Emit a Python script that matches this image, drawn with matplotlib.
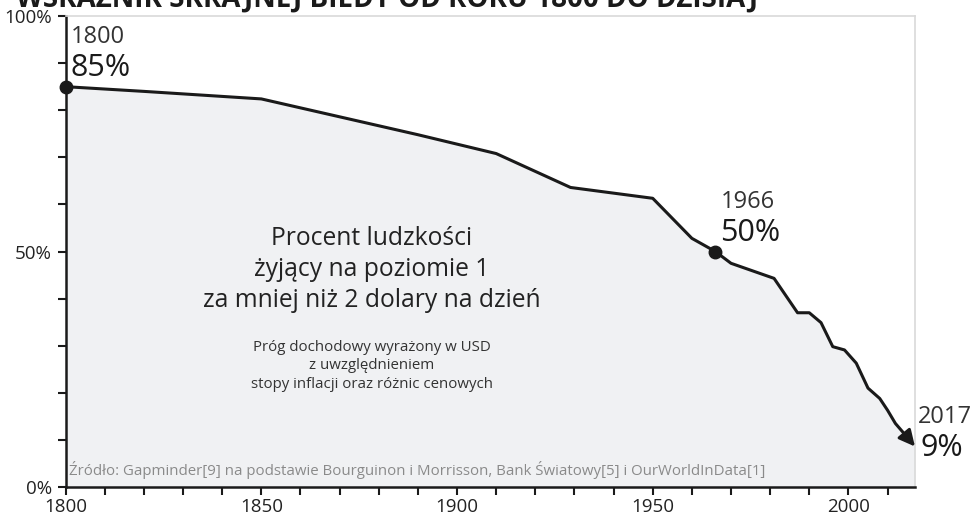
import numpy as np
import matplotlib
matplotlib.use("Agg")
import matplotlib.pyplot as plt
from matplotlib.ticker import MultipleLocator, FuncFormatter

plt.rcParams['font.family'] = ['Open Sans', 'DejaVu Sans']

# extreme poverty share of humanity (%)
years = [1800, 1820, 1850, 1870, 1890, 1910, 1929, 1950, 1960, 1966, 1970, 1981,
         1987, 1990, 1993, 1996, 1999, 2002, 2005, 2008, 2010, 2012, 2015, 2017]
poverty = [85.0, 84.0, 82.4, 78.6, 74.8, 70.8, 63.6, 61.3, 52.8, 50.0, 47.5, 44.3,
           37.0, 37.0, 34.9, 29.8, 29.1, 26.3, 21.0, 18.8, 16.3, 13.5, 10.6, 8.6]

highlight_years = [1800, 1966, 2017]
highlight_labels = ["85%", "50%", "9%"]

title = "WSKAŹNIK SKRAJNEJ BIEDY OD ROKU 1800 DO DZISIAJ"
main_text = "Procent ludzkości\nżyjący na poziomie 1\nza mniej niż 2 dolary na dzień"
sub_text = "Próg dochodowy wyrażony w USD\nz uwzględnieniem\nstopy inflacji oraz różnic cenowych"
source = ("Źródło: Gapminder[9] na podstawie Bourguinon i Morrisson, "
          "Bank Światowy[5] i OurWorldInData[1]")

ink = "#1a1a1a"
fill_col = "#f0f1f3"
border = "#d9d9d9"

fig = plt.figure(figsize=(9.77, 5.17), dpi=100)
ax = fig.add_axes([0.0672, 0.058, 0.8693, 0.911])

ax.fill_between(years, poverty, 0, color=fill_col, lw=0, zorder=1)
ax.plot(years[:-1], poverty[:-1], color=ink, lw=2.2, zorder=3, solid_joinstyle='round')
ax.annotate("", xy=(years[-1], poverty[-1]), xytext=(years[-2], poverty[-2]),
            arrowprops=dict(arrowstyle='-|>', color=ink, lw=2.2, mutation_scale=24,
                            shrinkA=0, shrinkB=0), zorder=4, annotation_clip=False)

for yr, lab in zip(highlight_years, highlight_labels):
    val = poverty[years.index(yr)]
    if yr != years[-1]:
        ax.plot(yr, val, 'o', color=ink, ms=9, zorder=5, clip_on=False)
        ax.annotate(str(yr), (yr, val), xytext=(5, 44), textcoords='offset pixels',
                    fontsize=17, color="#333333", va='baseline', ha='left')
        ax.annotate(lab, (yr, val), xytext=(5, 11), textcoords='offset pixels',
                    fontsize=22, color=ink, va='baseline', ha='left')
    else:
        ax.annotate(str(yr), (yr, val), xytext=(3, 24), textcoords='offset pixels',
                    fontsize=17, color="#333333", va='baseline', ha='left',
                    annotation_clip=False)
        ax.annotate(lab, (yr, val), xytext=(6, -9), textcoords='offset pixels',
                    fontsize=22, color=ink, va='baseline', ha='left',
                    annotation_clip=False)

ax.text(0.3607, 0.462, main_text, transform=ax.transAxes, ha='center', va='center',
        fontsize=17.7, color="#222222", linespacing=1.3)
ax.text(0.3607, 0.257, sub_text, transform=ax.transAxes, ha='center', va='center',
        fontsize=10.8, color="#333333", linespacing=1.32)
ax.text(0.004, 0.036, source, transform=ax.transAxes, ha='left', va='center',
        fontsize=10.85, color="#8a8a8a")

fig.text(0.016, 1 - 7 / 517, title, fontsize=20, fontweight='bold', color=ink,
         va='baseline', ha='left')

ax.set_xlim(1800, 2017)
ax.set_ylim(0, 100)
ax.xaxis.set_major_locator(MultipleLocator(50))
ax.xaxis.set_minor_locator(MultipleLocator(10))
ax.yaxis.set_major_locator(MultipleLocator(50))
ax.yaxis.set_minor_locator(MultipleLocator(10))
ax.yaxis.set_major_formatter(FuncFormatter(lambda v, p: f"{v:.0f}%"))

ax.tick_params(which='both', direction='out', length=6, width=1.5, color=ink)
ax.tick_params(axis='x', labelsize=13.5, pad=2, labelcolor="#222222")
ax.tick_params(axis='y', labelsize=13.5, pad=4, labelcolor="#222222")

for s in ['left', 'bottom']:
    ax.spines[s].set_color(ink)
    ax.spines[s].set_linewidth(1.8)
for s in ['top', 'right']:
    ax.spines[s].set_color(border)
    ax.spines[s].set_linewidth(1.2)

fig.savefig("out.png", dpi=100)
